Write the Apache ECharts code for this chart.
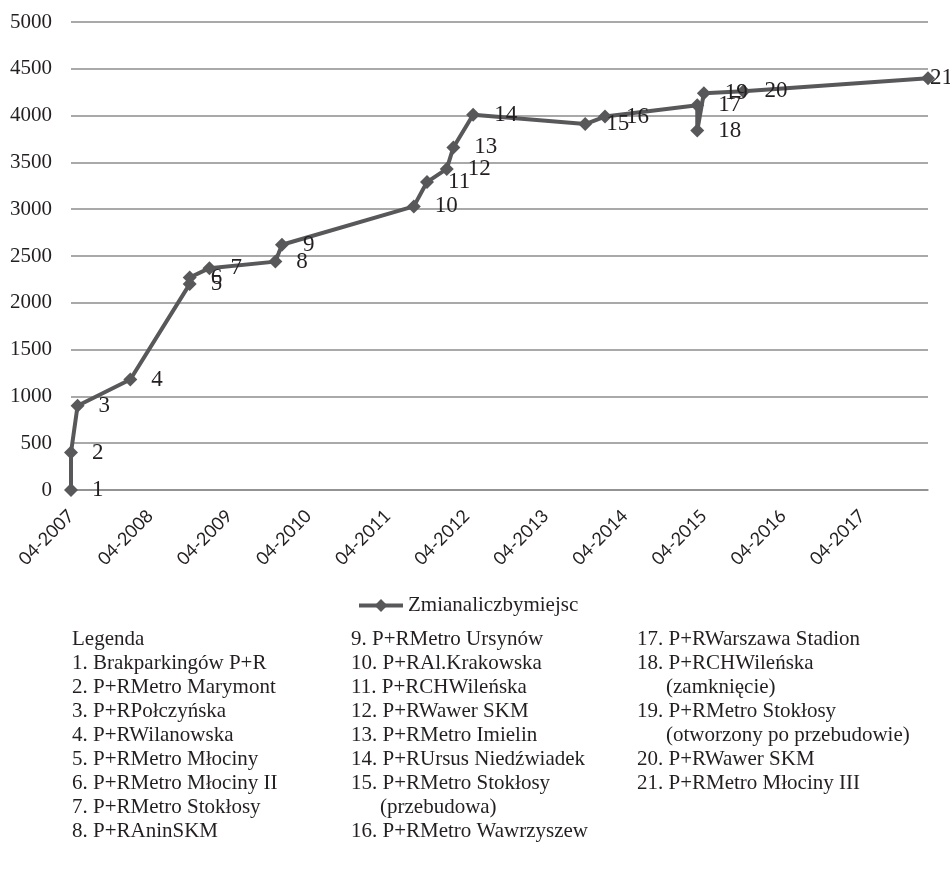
<!DOCTYPE html>
<html>
<head>
<meta charset="utf-8">
<script src="https://cdn.jsdelivr.net/npm/echarts@6/dist/echarts.min.js"></script>
<style>
  html, body { margin: 0; padding: 0; background: #fff; }
  #main { width: 950px; height: 882px; }
</style>
</head>
<body>
<div id="main"></div>
<script>
// dates (YYYY-MM) and number of places
var dates = ['2007-04', '2007-04', '2007-05', '2008-01', '2008-10', '2008-10', '2009-01',
  '2009-11', '2009-12', '2011-08', '2011-10', '2012-01', '2012-02', '2012-05',
  '2013-10', '2014-01', '2015-03', '2015-03', '2015-04', '2015-10', '2018-02'];
var values = [0, 400, 900, 1180, 2200, 2270, 2370, 2440, 2620, 3030, 3290, 3430, 3660, 4010,
  3910, 3990, 4110, 3840, 4240, 4260, 4400];
var pointLabels = ['1', '2', '3', '4', '5', '6', '7', '8', '9', '10', '11', '12', '13', '14',
  '15', '16', '17', '18', '19', '20', '21'];
var seriesName = 'Zmianaliczbymiejsc';
var axisStart = '2007-04';   // first x tick, one tick every 12 months
var yTicks = [0, 500, 1000, 1500, 2000, 2500, 3000, 3500, 4000, 4500, 5000];

var legendTitle = 'Legenda';
var legendItems = [
  'Brakparkingów P+R', 'P+RMetro Marymont', 'P+RPołczyńska', 'P+RWilanowska',
  'P+RMetro Młociny', 'P+RMetro Młociny II', 'P+RMetro Stokłosy', 'P+RAninSKM',
  'P+RMetro Ursynów', 'P+RAl.Krakowska', 'P+RCHWileńska', 'P+RWawer SKM',
  'P+RMetro Imielin', 'P+RUrsus Niedźwiadek', 'P+RMetro Stokłosy\n(przebudowa)',
  'P+RMetro Wawrzyszew', 'P+RWarszawa Stadion', 'P+RCHWileńska\n(zamknięcie)',
  'P+RMetro Stokłosy\n(otworzony po przebudowie)', 'P+RWawer SKM', 'P+RMetro Młociny III'
];

var textColor = '#231f20';
var lineColor = '#58585a';
var serif = 'Liberation Serif';

function monthIndex(s) {
  var p = s.split('-'), b = axisStart.split('-');
  return (+p[0] - +b[0]) * 12 + (+p[1] - +b[1]);
}
function monthLabel(v) {
  var b = axisStart.split('-');
  var t = (+b[0]) * 12 + (+b[1] - 1) + v;
  var y = Math.floor(t / 12), m = t % 12 + 1;
  return (m < 10 ? '0' + m : '' + m) + '-' + y;
}

var data = dates.map(function (d, i) {
  var item = { value: [monthIndex(d), values[i]] };
  if (i === dates.length - 1) item.label = { offset: [-19, 0] };
  return item;
});

// text block "Legenda" below the chart, three columns
var graphics = [];
var colX = [72, 351, 637];
var colStart = [0, 8, 16];
function rowY(r) { return 639 + 24 * r; }
graphics.push({
  type: 'text', x: colX[0], y: rowY(0),
  style: { text: legendTitle, fontSize: 21, fontFamily: serif, fill: textColor, verticalAlign: 'middle' }
});
colStart.forEach(function (start, c) {
  var end = c + 1 < colStart.length ? colStart[c + 1] : legendItems.length;
  var row = c === 0 ? 1 : 0;
  for (var i = start; i < end; i++) {
    var lines = legendItems[i].split('\n');
    lines.forEach(function (ln, k) {
      graphics.push({
        type: 'text', x: colX[c] + (k ? 29 : 0), y: rowY(row),
        style: {
          text: (k ? '' : (i + 1) + '. ') + ln,
          fontSize: 21, fontFamily: serif, fill: textColor, verticalAlign: 'middle'
        }
      });
      row++;
    });
  }
});

var chart = echarts.init(document.getElementById('main'));
chart.setOption({
  animation: false,
  backgroundColor: '#fff',
  grid: { left: 71, right: 22, top: 22, bottom: 392 },
  legend: {
    data: [seriesName],
    left: 352, top: 590,
    itemWidth: 44, itemHeight: 16,
    lineStyle: { width: 4 },
    textStyle: { fontFamily: serif, fontSize: 21, color: textColor }
  },
  xAxis: {
    type: 'value',
    min: 0,
    max: monthIndex(dates[dates.length - 1]),
    interval: 12,
    splitLine: { show: false },
    axisTick: { show: false },
    axisLine: { show: true, lineStyle: { color: '#8c8c8c', width: 1.5 } },
    axisLabel: {
      rotate: 45, margin: 23, showMaxLabel: false,
      fontFamily: 'Lato', fontSize: 18, color: textColor,
      formatter: monthLabel
    }
  },
  yAxis: {
    type: 'value',
    min: yTicks[0], max: yTicks[yTicks.length - 1], interval: yTicks[1] - yTicks[0],
    axisLine: { show: false },
    axisTick: { show: false },
    splitLine: { lineStyle: { color: '#8c8c8c', width: 1.5 } },
    axisLabel: {
      margin: 19, fontFamily: serif, fontSize: 21, color: textColor,
      formatter: function (v) { return String(v); }
    }
  },
  series: [{
    name: seriesName,
    type: 'line',
    data: data,
    symbol: 'diamond',
    symbolSize: 14,
    itemStyle: { color: lineColor },
    lineStyle: { color: lineColor, width: 4 },
    label: {
      show: true, position: 'right', distance: 14,
      fontFamily: serif, fontSize: 23, color: textColor,
      formatter: function (p) { return pointLabels[p.dataIndex]; }
    }
  }],
  graphic: graphics
});
</script>
</body>
</html>
